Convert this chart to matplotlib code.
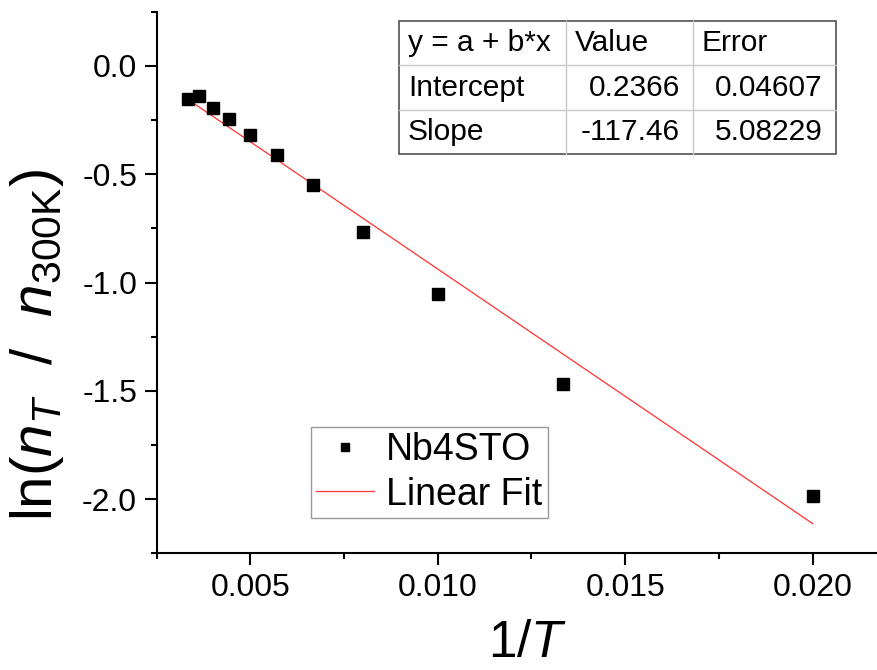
import matplotlib
matplotlib.use("Agg")
import matplotlib.pyplot as plt
from matplotlib.lines import Line2D
import numpy as np

# ---- data ----
inv_T = [0.00333, 0.00364, 0.00400, 0.00444, 0.00500, 0.00571,
         0.00667, 0.00800, 0.01000, 0.01333, 0.02000]
ln_ratio = [-0.151, -0.139, -0.193, -0.244, -0.318, -0.413,
            -0.549, -0.765, -1.052, -1.469, -1.984]
fit_intercept = 0.2366
fit_slope = -117.46
table_header = ["y = a + b*x", "Value", "Error"]
table_rows = [["Intercept", "0.2366", "0.04607"],
              ["Slope", "-117.46", "5.08229"]]
x_ticks = [0.005, 0.010, 0.015, 0.020]
x_ticklabels = ["0.005", "0.010", "0.015", "0.020"]
y_ticks = [0.0, -0.5, -1.0, -1.5, -2.0]
y_ticklabels = ["0.0", "-0.5", "-1.0", "-1.5", "-2.0"]
series_label = "Nb4STO"
fit_label = "Linear Fit"

plt.rcParams['font.family'] = ['Liberation Sans', 'DejaVu Sans']
plt.rcParams['mathtext.fontset'] = 'custom'
plt.rcParams['mathtext.rm'] = 'Liberation Sans'
plt.rcParams['mathtext.it'] = 'Liberation Sans:italic'
plt.rcParams['mathtext.bf'] = 'Liberation Sans:bold'

W, H = 878, 670
fig = plt.figure(figsize=(W / 100, H / 100), dpi=100)
fig.patch.set_facecolor('white')

def fx(x):
    return x / W

def fy(y):
    return 1 - y / H

ax_l, ax_r, ax_t, ax_b = 156.7, 906.3, 11.7, 553.3
ax = fig.add_axes([fx(ax_l), fy(ax_b), (ax_r - ax_l) / W, (ax_b - ax_t) / H])

x = np.array(inv_T)
y = np.array(ln_ratio)
ax.plot(x, y, linestyle='none', marker='s', markersize=8.6, color='black',
        label=series_label, zorder=3)
xf = np.array([x.min(), x.max()])
ax.plot(xf, fit_intercept + fit_slope * xf, color='#ff3030', lw=0.9,
        label=fit_label, zorder=2)

ax.set_xlim(0.0025, 0.0225)
ax.set_ylim(-2.25, 0.25)
ax.set_xticks(x_ticks)
ax.set_xticklabels(x_ticklabels)
ax.set_yticks(y_ticks)
ax.set_yticklabels(y_ticklabels)
ax.set_xticks(np.arange(0.0025, 0.0226, 0.005), minor=True)
ax.set_yticks(np.arange(-2.25, 0.26, 0.5), minor=True)

for s in ['top', 'right']:
    ax.spines[s].set_visible(False)
for s in ['left', 'bottom']:
    ax.spines[s].set_linewidth(1.5)
ax.tick_params(which='major', direction='out', length=8.6, width=1.5,
               labelsize=23, pad=5.5)
ax.tick_params(which='minor', direction='out', length=4.3, width=1.5)
ax.patch.set_alpha(0)

# axis labels
fig.text(fx(37), fy(345), r'ln($n_T\ $ / $\ n_{\rm 300K}$)', rotation=90,
         ha='center', va='center', fontsize=42)
fig.text(fx(528), fy(668), r'1/$T$', ha='center', va='bottom', fontsize=37)

# legend
leg = ax.legend(loc='upper left', bbox_to_anchor=(fx(310.7), fy(426.7)),
                bbox_transform=fig.transFigure, borderaxespad=0,
                fontsize=27, frameon=True, fancybox=False, markerscale=0.7,
                handlelength=1.55, handletextpad=0.3, labelspacing=0.22,
                borderpad=0.15)
leg.get_frame().set_edgecolor('#808080')
leg.get_frame().set_linewidth(1.0)

# fit results table
cols = [399, 566, 693, 836]
rows = [21, 65.3, 109.7, 154]
for xc in cols[1:-1]:
    fig.add_artist(Line2D([fx(xc), fx(xc)], [fy(rows[0]), fy(rows[-1])],
                          color='#c8c8c8', lw=1.0))
for yr in rows[1:-1]:
    fig.add_artist(Line2D([fx(cols[0]), fx(cols[-1])], [fy(yr), fy(yr)],
                          color='#c8c8c8', lw=1.0))
fig.add_artist(plt.Rectangle((fx(cols[0]), fy(rows[-1])),
                             fx(cols[-1]) - fx(cols[0]), fy(rows[0]) - fy(rows[-1]),
                             fill=False, edgecolor='#505050', lw=1.2,
                             transform=fig.transFigure))
tfs = 21.5
for j, txt in enumerate(table_header):
    fig.text(fx(cols[j] + 9), fy((rows[0] + rows[1]) / 2), txt,
             ha='left', va='center', fontsize=tfs)
for i, row in enumerate(table_rows):
    yc = fy((rows[i + 1] + rows[i + 2]) / 2)
    fig.text(fx(cols[0] + 9), yc, row[0], ha='left', va='center', fontsize=tfs)
    fig.text(fx(cols[2] - 13), yc, row[1], ha='right', va='center', fontsize=tfs)
    fig.text(fx(cols[3] - 13), yc, row[2], ha='right', va='center', fontsize=tfs)

fig.savefig('out.png', dpi=100)
